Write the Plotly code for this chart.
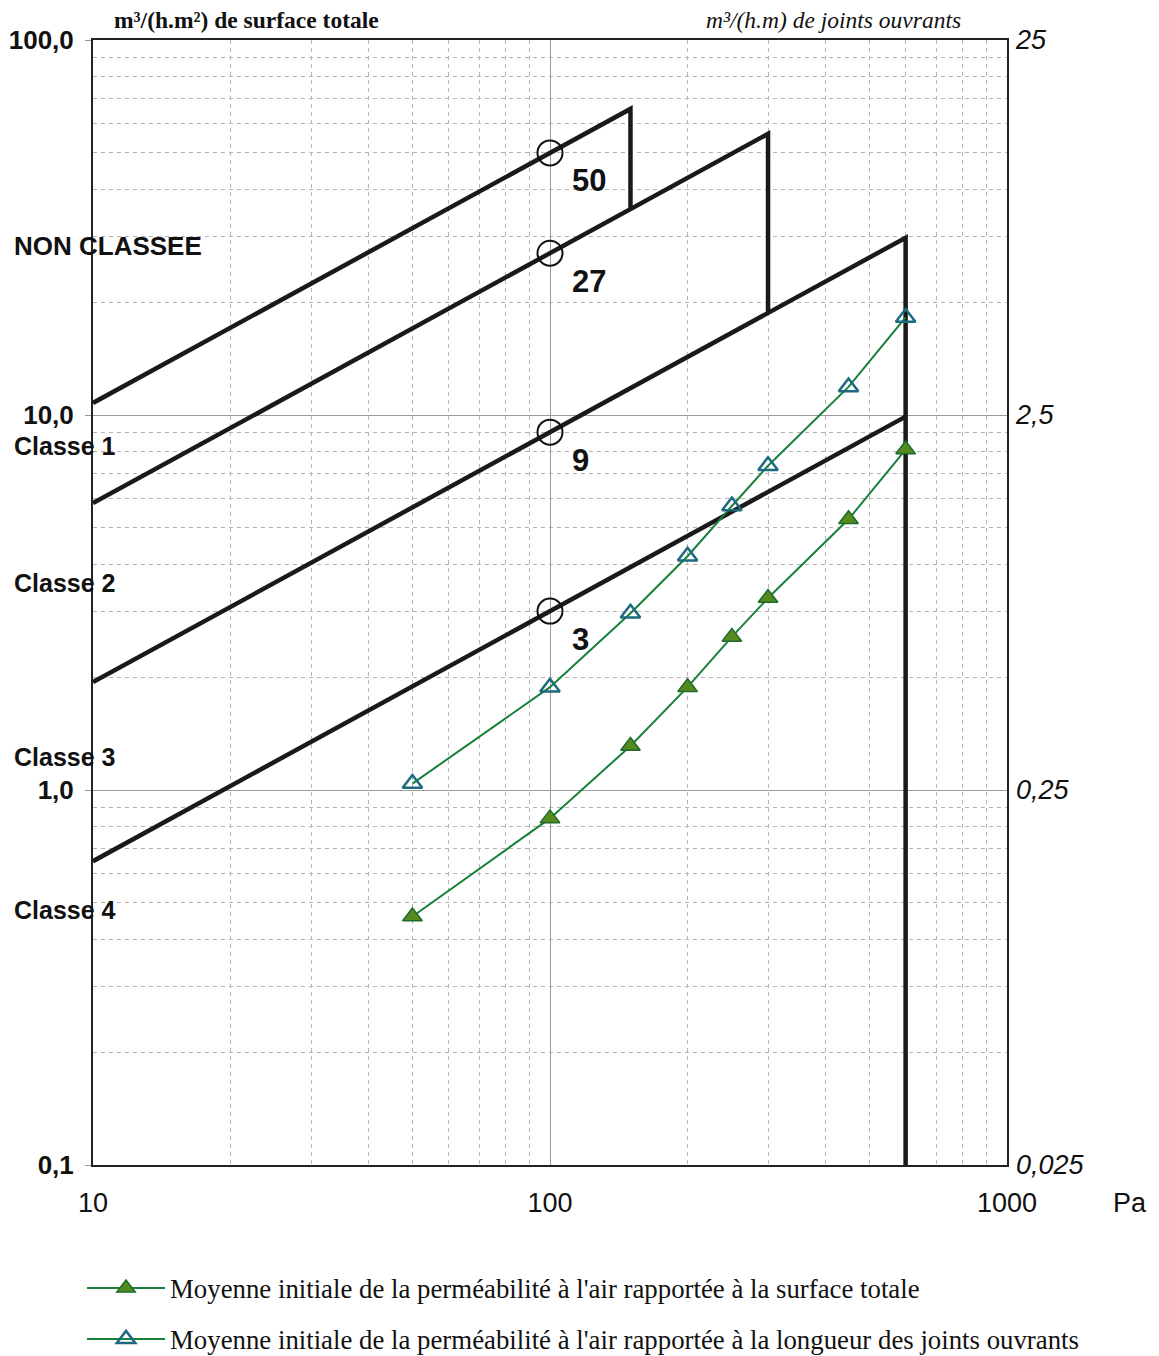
import math
import plotly.graph_objects as go

# ---- data ----
pressure = [50, 100, 150, 200, 250, 300, 450, 600]
surface_totale = [0.46, 0.84, 1.31, 1.88, 2.56, 3.25, 5.27, 8.09]          # m3/(h.m2)
joints_ouvrants = [0.26, 0.47, 0.74, 1.05, 1.43, 1.83, 2.97, 4.55]         # m3/(h.m)

# class limit lines (pressure, flow) incl. vertical drops
class4_x = [10, 150, 150]
class4_y = [10.77, 65.5, 35.4]
class3_x = [10, 300, 300]
class3_y = [5.82, 56.2, 18.7]
class2_x = [10, 600, 600]
class2_y = [1.94, 29.7, 0.1]
class1_x = [10, 600]
class1_y = [0.646, 9.9]

ref_x = [100, 100, 100, 100]
ref_y = [50, 27, 9, 3]
ref_labels = ["50", "27", "9", "3"]

class_names = ["NON CLASSEE", "Classe 1", "Classe 2", "Classe 3", "Classe 4"]
class_label_pos = [0.8169, 0.6391, 0.5173, 0.3627, 0.2267]

x_ticks = [10, 100, 1000]
x_ticktext = ["10", "100", "1000"]
y_ticks = [0.1, 1, 10, 100]
y_ticktext = ["0,1", "1,0", "10,0", "100,0"]
y2_ticks = [0.025, 0.25, 2.5, 25]
y2_ticktext = ["0,025", "0,25", "2,5", "25"]

minor_x = [20, 30, 40, 50, 60, 70, 80, 90, 200, 300, 400, 500, 600, 700, 800, 900]
minor_y = [v * d for d in (0.1, 1, 10) for v in range(2, 10)]

SANS = "Liberation Sans, Arial, sans-serif"
SERIF = "Liberation Serif, Times New Roman, serif"

fig = go.Figure()

for cx, cy in [(class4_x, class4_y), (class3_x, class3_y), (class2_x, class2_y), (class1_x, class1_y)]:
    fig.add_trace(go.Scatter(x=cx, y=cy, mode="lines", line=dict(color="#1a1a1a", width=4.5),
                             showlegend=False, hoverinfo="skip"))

fig.add_trace(go.Scatter(x=ref_x, y=ref_y, mode="markers",
                         marker=dict(symbol="circle-open", size=25, color="#111", line=dict(width=2)),
                         showlegend=False, hoverinfo="skip"))

fig.add_trace(go.Scatter(
    x=pressure, y=surface_totale, mode="lines+markers",
    name="Moyenne initiale de la perméabilité à l'air rapportée à la surface totale",
    line=dict(color="#17803a", width=2),
    marker=dict(symbol="triangle-up", size=17, color="#558a1e", line=dict(color="#1d6b2c", width=1.5)),
    legend="legend"))

fig.add_trace(go.Scatter(
    x=pressure, y=joints_ouvrants, mode="lines+markers", yaxis="y2",
    name="Moyenne initiale de la perméabilité à l'air rapportée à la longueur des joints ouvrants",
    line=dict(color="#17803a", width=2),
    marker=dict(symbol="triangle-up-open", size=17, color="#1d6a7e", line=dict(width=2.5)),
    legend="legend2"))

annotations = []
for x, y, t in zip(ref_x, ref_y, ref_labels):
    annotations.append(dict(x=math.log10(x), y=math.log10(y), xref="x", yref="y", text="<b>%s</b>" % t,
                            showarrow=False, xanchor="left", yanchor="middle", xshift=20, yshift=-28,
                            font=dict(family=SANS, size=31, color="#111")))
for name, yp in zip(class_names, class_label_pos):
    annotations.append(dict(x=-0.0886, y=yp, xref="paper", yref="paper", text="<b>%s</b>" % name,
                            showarrow=False, xanchor="left", yanchor="middle",
                            font=dict(family=SANS, size=26 if name.startswith("NON") else 25, color="#111")))
annotations.append(dict(x=0.168, y=1.0178, xref="paper", yref="paper",
                        text="<b>m³/(h.m²) de surface totale</b>", showarrow=False,
                        xanchor="center", yanchor="middle", font=dict(family=SERIF, size=23.5, color="#111")))
annotations.append(dict(x=0.81, y=1.0178, xref="paper", yref="paper",
                        text="<i>m³/(h.m) de joints ouvrants</i>", showarrow=False,
                        xanchor="center", yanchor="middle", font=dict(family=SERIF, size=23.5, color="#111")))
annotations.append(dict(x=1.1346, y=-0.0338, xref="paper", yref="paper", text="Pa", showarrow=False,
                        xanchor="center", yanchor="middle", font=dict(family=SANS, size=27, color="#111")))

minor_grid = dict(showgrid=True, gridcolor="#b5b5b5", griddash="4px,4px", gridwidth=1, ticks="")

# page body has an 8px default margin -> figure is 8px smaller and margins are reduced accordingly
fig.update_layout(
    width=1151, height=1348,
    margin=dict(l=85, r=152, t=32, b=191, autoexpand=False),
    paper_bgcolor="white", plot_bgcolor="white",
    annotations=annotations,
    legend=dict(x=-0.012, y=-0.088, xanchor="left", yanchor="top", bgcolor="rgba(0,0,0,0)",
                font=dict(family=SERIF, size=26.8, color="#111"), itemwidth=78),
    legend2=dict(x=-0.012, y=-0.1333, xanchor="left", yanchor="top", bgcolor="rgba(0,0,0,0)",
                 font=dict(family=SERIF, size=26.8, color="#111"), itemwidth=78),
    xaxis=dict(type="log", range=[1, 3], tickvals=x_ticks, ticktext=x_ticktext,
               showgrid=True, gridcolor="#9a9a9a", gridwidth=1,
               showline=True, linecolor="#222", linewidth=2, mirror=True,
               ticks="", ticklabelstandoff=13, zeroline=False,
               tickfont=dict(family=SANS, size=27, color="#111"),
               minor=dict(tickvals=minor_x, **minor_grid)),
    yaxis=dict(type="log", range=[-1, 2], tickvals=y_ticks, ticktext=["<b>%s</b>" % t for t in y_ticktext],
               showgrid=True, gridcolor="#9a9a9a", gridwidth=1,
               showline=True, linecolor="#222", linewidth=2, mirror=True,
               ticks="outside", ticklen=6, tickcolor="#9a9a9a", ticklabelstandoff=6, zeroline=False,
               tickfont=dict(family=SANS, size=26, color="#111"),
               minor=dict(tickvals=minor_y, **minor_grid)),
    yaxis2=dict(type="log", range=[math.log10(0.025), math.log10(25)],
                overlaying="y", side="right", tickvals=y2_ticks,
                ticktext=["<i>%s</i>" % t for t in y2_ticktext],
                showgrid=False, showline=False, ticks="", ticklabelstandoff=8, zeroline=False,
                tickfont=dict(family=SANS, size=27, color="#111")),
)

fig.write_html("out.html")
